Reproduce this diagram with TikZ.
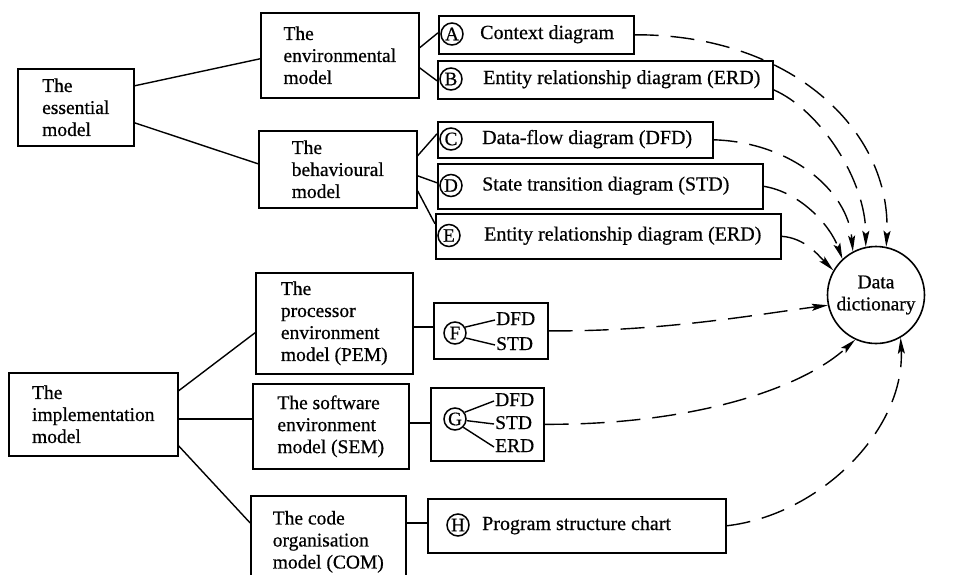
\documentclass[tikz,border=0pt]{standalone}
\usepackage{fontspec}
\setmainfont{Liberation Serif}[FakeBold=0.6]
\usetikzlibrary{arrows.meta}
\begin{document}
\begin{tikzpicture}[x=1pt,y=-1pt,
  box/.style={draw, line width=1.6pt, rectangle, anchor=north west, align=left,
    inner sep=0pt, font=\fontsize{19.5}{22}\selectfont},
  letter/.style={draw, circle, line width=1.5pt, minimum size=22pt, inner sep=0pt,
    font=\fontsize{19}{19}\selectfont},
  label/.style={anchor=west, inner sep=0pt, text height=14pt, text depth=4pt,
    font=\fontsize{20}{22}\selectfont},
  small/.style={anchor=west, inner sep=1pt, text height=13pt, text depth=3pt,
    font=\fontsize{19.5}{20}\selectfont},
  link/.style={line width=1.4pt},
  feed/.style={line width=1.4pt, dash pattern=on 24pt off 12pt,
    -{Stealth[length=16pt,width=7pt,inset=3pt]}}
]
\useasboundingbox (0,0) rectangle (962,574);
\clip (0,0) rectangle (962,574);

% the essential model and its two parts
\node[box, minimum width=116pt, minimum height=77pt] (ess) at (17,68) {The\\essential\\model};
\node[box, minimum width=158pt, minimum height=85pt] (env) at (260,12) {The\\environmental\\model};
\node[box, minimum width=158pt, minimum height=77pt] (beh) at (258,130) {The\\behavioural\\model};

% diagrams of the essential model
\node[box, minimum width=195pt, minimum height=38pt] (A) at (438,15) {};
\node[box, minimum width=335pt, minimum height=38pt] (B) at (437,60) {};
\node[box, minimum width=275pt, minimum height=36pt] (C) at (437,121) {};
\node[box, minimum width=325pt, minimum height=45pt] (D) at (437,163) {};
\node[box, minimum width=345pt, minimum height=45pt] (E) at (435,213) {};

\node[letter] (la) at (452,34) {A};
\node[label] (ta) at (480,34) {Context diagram};
\node[letter] (lb) at (451,79) {B};
\node[label] (tb) at (483,79) {Entity relationship diagram (ERD)};
\node[letter] (lc) at (451,139) {C};
\node[label] (tc) at (482,139) {Data-flow diagram (DFD)};
\node[letter] (ld) at (451,185.5) {D};
\node[label] (td) at (482,185.5) {State transition diagram (STD)};
\node[letter] (le) at (449,235.5) {E};
\node[label] (te) at (484,235.5) {Entity relationship diagram (ERD)};

% the implementation model and its three parts
\node[box, minimum width=169pt, minimum height=83pt] (impl) at (8,372) {The\\implementation\\model};
\node[box, minimum width=157pt, minimum height=101pt] (pem) at (255,272) {The\\processor\\environment\\model (PEM)};
\node[box, minimum width=156pt, minimum height=85pt] (sem) at (252,383) {The software\\environment\\model (SEM)};
\node[box, minimum width=155pt, minimum height=92pt] (com) at (250,495) {The code\\organisation\\model (COM)};

% diagrams of the implementation model
\node[box, minimum width=114pt, minimum height=56pt] (F) at (433,302) {};
\node[box, minimum width=113pt, minimum height=73pt] (G) at (430,387) {};
\node[box, minimum width=298pt, minimum height=54pt] (H) at (427,498) {};

\node[letter] (lf) at (455,333) {F};
\node[small] (fdfd) at (495,320) {DFD};
\node[small] (fstd) at (495,345) {STD};
\draw[link] (lf.30) -- (fdfd.west);
\draw[link] (lf.-25) -- (fstd.west);

\node[letter] (lg) at (455,419) {G};
\node[small] (gdfd) at (494,401) {DFD};
\node[small] (gstd) at (494,424) {STD};
\node[small] (gerd) at (494,447) {ERD};
\draw[link] (lg.35) -- (gdfd.west);
\draw[link] (lg.-8) -- (gstd.west);
\draw[link] (lg.-45) -- (gerd.west);

\node[letter] (lh) at (458,525) {H};
\node[label] (th) at (482,525) {Program structure chart};

% the data dictionary
\node[draw, circle, line width=1.6pt, minimum size=97pt, inner sep=0pt, align=center,
  font=\fontsize{19.5}{22}\selectfont] (dd) at (876,295) {Data\\dictionary};

% tree links
\draw[link] ([yshift=21.5pt]ess.east) -- ([yshift=-3.5pt]env.west);
\draw[link] ([yshift=-15.5pt]ess.east) -- ([yshift=5.5pt]beh.west);
\draw[link] ([yshift=7.5pt]env.east) -- ([yshift=2pt]A.west);
\draw[link] ([yshift=-12.5pt]env.east) -- ([yshift=-1pt]B.west);
\draw[link] ([yshift=13.5pt]beh.east) -- ([yshift=6pt]C.west);
\draw[link] ([yshift=-6.5pt]beh.east) -- ([yshift=3.5pt]D.west);
\draw[link] ([yshift=-21.5pt]beh.east) -- ([yshift=12.5pt]E.west);

\draw[link] ([yshift=23.5pt]impl.east) -- ([yshift=-9.5pt]pem.west);
\draw[link] ([yshift=-4.5pt]impl.east) -- ([yshift=7.5pt]sem.west);
\draw[link] ([yshift=-31.5pt]impl.east) -- ([yshift=19pt]com.west);
\draw[link] ([yshift=-3.5pt]pem.east) -- ([yshift=4pt]F.west);
\draw[link] ([yshift=3.5pt]sem.east) -- ([yshift=1.5pt]G.west);
\draw[link] ([yshift=19pt]com.east) -- ([yshift=3pt]H.west);

% every diagram feeds the data dictionary
\draw[feed] (A.east) .. controls (790,34) and (892,130) .. (dd.78);
\draw[feed] ([yshift=-10pt]B.east) .. controls (820,110) and (866,180) .. (dd.102);
\draw[feed] (C.east) .. controls (790,142) and (848,190) .. (dd.118);
\draw[feed] (D.east) .. controls (800,192) and (830,225) .. (dd.133);
\draw[feed] (E.east) .. controls (805,238) and (818,255) .. (dd.150);
\draw[feed] (F.east) .. controls (660,332) and (760,314) .. (dd.192);
\draw[feed] (G.east) .. controls (690,425) and (800,390) .. (dd.245);
\draw[feed] (H.east) .. controls (820,515) and (905,430) .. (dd.300);
\end{tikzpicture}
\end{document}
